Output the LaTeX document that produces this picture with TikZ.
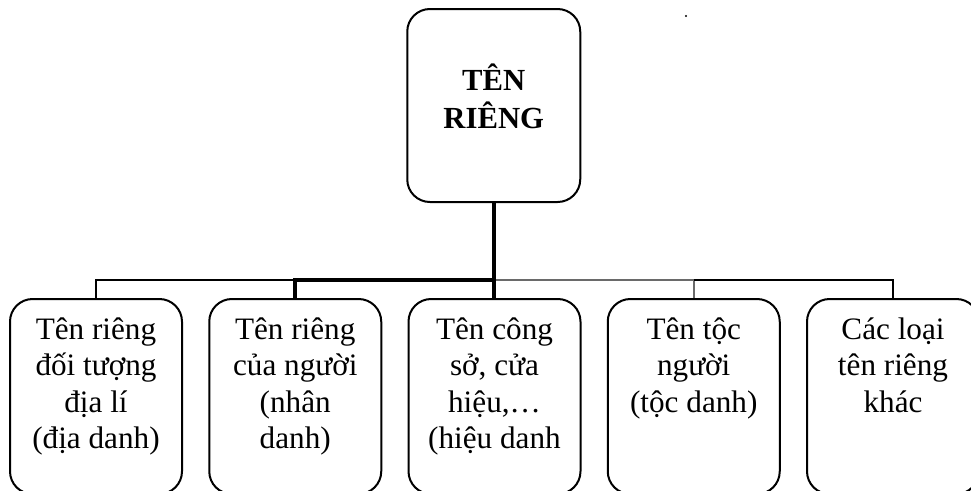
\documentclass[tikz,border=0pt]{standalone}
\usepackage{fontspec}
\setmainfont{Liberation Serif}
\definecolor{linkgray}{HTML}{6A6A6A}
\begin{document}
\begin{tikzpicture}[x=0.75pt,y=-0.75pt,
  box/.style={draw, line width=1.5pt, rounded corners=17pt, inner sep=0pt,
              minimum width=129pt, minimum height=146.25pt},
  rootbox/.style={box, minimum width=129.75pt, minimum height=144.75pt},
  leaf/.style={inner sep=0pt, anchor=north, align=center,
               font=\fontsize{23.4}{27.2}\selectfont},
  rootlabel/.style={inner sep=0pt, anchor=north, align=center,
                    font=\fontsize{23}{28.5}\selectfont\bfseries},
  thinlink/.style={line width=1.5pt},
  heavylink/.style={line width=2.8pt},
  graylink/.style={line width=1.8pt, draw=linkgray}]
\useasboundingbox (0,0) rectangle (971,490);
\clip (0,0) rectangle (971,490);

% root
\node[rootbox] (root) at (493.75,105.5) {};
\node[rootlabel] (rootlbl) at ([yshift=-41.5pt]root.north) {TÊN\\RIÊNG};

% leaves
\node[box] (b1) at (96,396.5) {};
\node[box] (b2) at (295.25,396.5) {};
\node[box] (b3) at (494.5,396.5) {};
\node[box] (b4) at (693.75,396.5) {};
\node[box] (b5) at (893,396.5) {};

\node[leaf] (t1) at ([yshift=-14.8pt]b1.north) {Tên riêng\\đối tượng\\địa lí\\(địa danh)};
\node[leaf] (t2) at ([yshift=-14.8pt]b2.north) {Tên riêng\\của người\\(nhân\\danh)};
\node[leaf] (t3) at ([yshift=-14.8pt]b3.north) {Tên công\\sở, cửa\\hiệu,…\\(hiệu danh};
\node[leaf] (t4) at ([yshift=-14.8pt]b4.north) {Tên tộc\\người\\(tộc danh)};
\node[leaf] (t5) at ([yshift=-14.8pt]b5.north) {Các loại\\tên riêng\\khác};

% connectors
\coordinate (bus) at (0,280);
\draw[graylink] (b3.north |- bus) -- (b4.north |- bus) -- (b4.north);
\draw[thinlink] (b4.north |- bus) -- (b5.north |- bus) -- (b5.north);
\draw[thinlink] (b1.north) -- (b1.north |- bus) -- (b2.north |- bus);
\draw[heavylink] (b2.north) -- (b2.north |- bus) -- (b3.north |- bus);
\draw[heavylink] (root.south) -- (root.south |- b3.north);

% stray mark
\fill (686,16) circle[radius=1.1];
\end{tikzpicture}
\end{document}
